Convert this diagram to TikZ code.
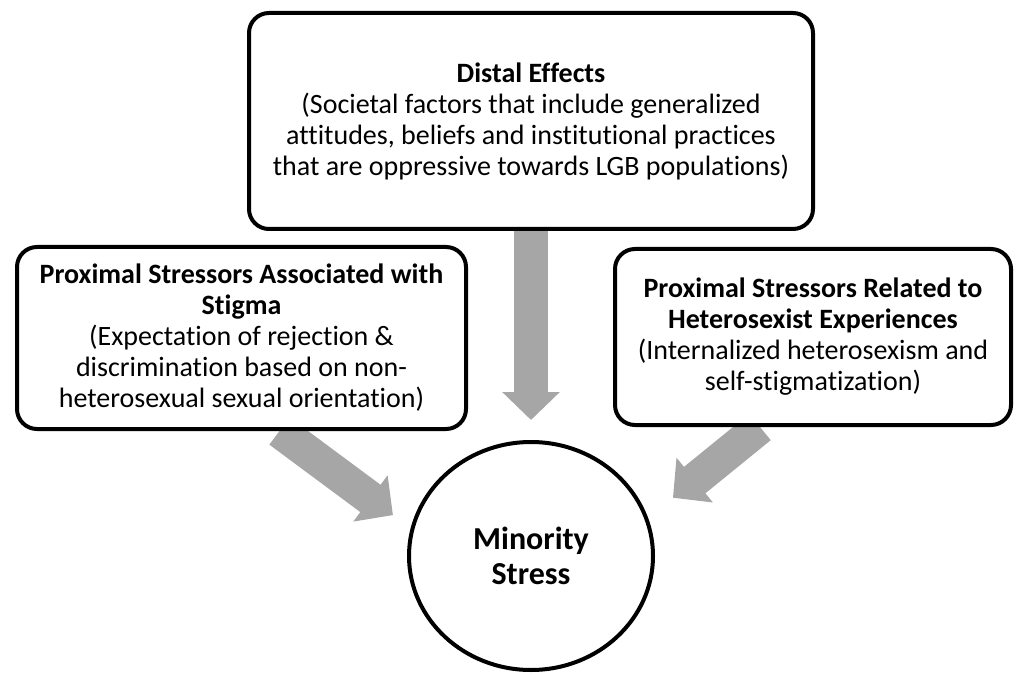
\documentclass[tikz,border=0pt]{standalone}
\usepackage{fontspec}
\setmainfont[Ligatures=NoCommon]{Carlito}
\usepackage{xcolor}
\usepackage{tikz}
\usetikzlibrary{shapes.geometric,arrows.meta,positioning,backgrounds}
\definecolor{arrowgrey}{HTML}{A6A6A6}

\begin{document}
\begin{tikzpicture}[
            x=0.5pt, y=-0.5pt,
            every node/.style={font=\fontsize{14pt}{15.5pt}\selectfont, align=center},
            bx/.style={draw, line width=2pt, rounded corners=10pt, fill=white, inner sep=0pt},
            bigarrow/.style={draw=arrowgrey, line width=17pt, -{Triangle[width=28pt, length=14pt]}, arrowgrey},
        ]
            \useasboundingbox (0,0) rectangle (1016,673);
            \node[bx, minimum width=282pt, minimum height=108pt] (distal) at (531,121)
                {\textbf{Distal Effects}\\(Societal factors that include generalized\\attitudes, beliefs and institutional practices\\that are oppressive towards LGB populations)};
            \node[bx, minimum width=224.5pt, minimum height=91pt] (stigma) at (241.5,338)
                {\textbf{Proximal Stressors Associated with}\\\textbf{Stigma}\\(Expectation of rejection \&\\discrimination based on non-\\heterosexual sexual orientation)};
            \node[bx, minimum width=198pt, minimum height=88pt] (hetero) at (813,337)
                {\textbf{Proximal Stressors Related to}\\\textbf{Heterosexist Experiences}\\(Internalized heterosexism and\\self-stigmatization)};
            \node[draw, ellipse, line width=2pt, fill=white, inner sep=0pt, minimum width=122pt, minimum height=114pt,
                font=\fontsize{16pt}{17.5pt}\selectfont\bfseries] (minority) at (531,556) {Minority\\Stress};
            \begin{scope}[on background layer]
                \draw[bigarrow, shorten >=10pt] (distal.south) -- (minority.north);
                \draw[bigarrow, shorten >=11pt] ([xshift=19pt]stigma.south) -- (minority.167);
                \draw[bigarrow, shorten >=16pt] ([xshift=-26.5pt]hetero.south) -- (minority.18);
            \end{scope}
        \end{tikzpicture}
\end{document}
